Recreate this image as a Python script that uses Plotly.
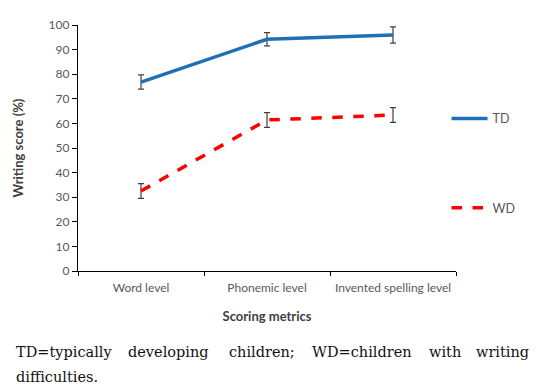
import plotly.graph_objects as go

categories = ["Word level", "Phonemic level", "Invented spelling level"]
td_values = [76.8, 94.2, 95.9]
td_err = [2.9, 2.7, 3.3]
wd_values = [32.5, 61.4, 63.4]
wd_err = [3.0, 3.0, 3.0]
y_ticks = list(range(0, 101, 10))
caption_line1 = ["TD=typically", "developing", "children;", "WD=children", "with", "writing"]
caption_line2 = "difficulties."

fig = go.Figure()
fig.add_trace(go.Scatter(
    x=categories, y=td_values, name="TD", mode="lines",
    line=dict(color="#1F6FB8", width=3.5),
    error_y=dict(type="data", array=td_err, color="#404040", thickness=1.2, width=3),
    legend="legend", showlegend=True,
))
fig.add_trace(go.Scatter(
    x=categories, y=wd_values, name="WD", mode="lines",
    line=dict(color="#FF0000", width=3.5, dash="dash"),
    error_y=dict(type="data", array=wd_err, color="#404040", thickness=1.2, width=3),
    legend="legend2", showlegend=True,
))

axis_font = dict(family="Lato, Open Sans, sans-serif", size=12, color="#595959")
title_font = dict(family="Lato, Open Sans, sans-serif", size=13, color="#404040")
leg_font = dict(family="Lato, Open Sans, sans-serif", size=12.5, color="#595959")
fig.update_layout(
    width=545, height=390, showlegend=True,
    margin=dict(l=78, r=89, t=25, b=119),
    paper_bgcolor="white", plot_bgcolor="white",
    xaxis=dict(
        type="category", range=[-0.5, 2.5], showline=True, linecolor="black", linewidth=1.2,
        ticks="outside", ticklen=4, tickcolor="black", tickson="boundaries", tickangle=0,
        showgrid=False, tickfont=axis_font, ticklabelstandoff=5,
        title=dict(text="<b>Scoring metrics</b>", standoff=18, font=title_font),
    ),
    yaxis=dict(
        range=[0, 100], tickvals=y_ticks, showline=True, linecolor="black", linewidth=1.2,
        ticks="outside", ticklen=5, tickcolor="black", showgrid=False, zeroline=False,
        tickfont=axis_font,
        title=dict(text="<b>Writing score (%)</b>", standoff=22, font=title_font),
    ),
    legend=dict(x=0.975, y=0.618, xanchor="left", yanchor="middle", bgcolor="rgba(0,0,0,0)",
                itemwidth=36, font=leg_font),
    legend2=dict(x=0.975, y=0.256, xanchor="left", yanchor="middle", bgcolor="rgba(0,0,0,0)",
                 itemwidth=36, font=leg_font),
)

cap_font = dict(family="DejaVu Serif, Liberation Serif, serif", size=14.5, color="#111111")
word_x = [14, 126, 227, 310, 427, 474]
for w, xp in zip(caption_line1, word_x):
    fig.add_annotation(text=w, xref="paper", yref="paper", x=(xp - 78) / 378, y=(271 - 352) / 246,
                       xanchor="left", yanchor="middle", showarrow=False, font=cap_font)
fig.add_annotation(text=caption_line2, xref="paper", yref="paper", x=(14 - 78) / 378, y=(271 - 377) / 246,
                   xanchor="left", yanchor="middle", showarrow=False, font=cap_font)

fig.write_html("out.html", config={"displayModeBar": False},
               post_script="document.body.style.margin='0';")
